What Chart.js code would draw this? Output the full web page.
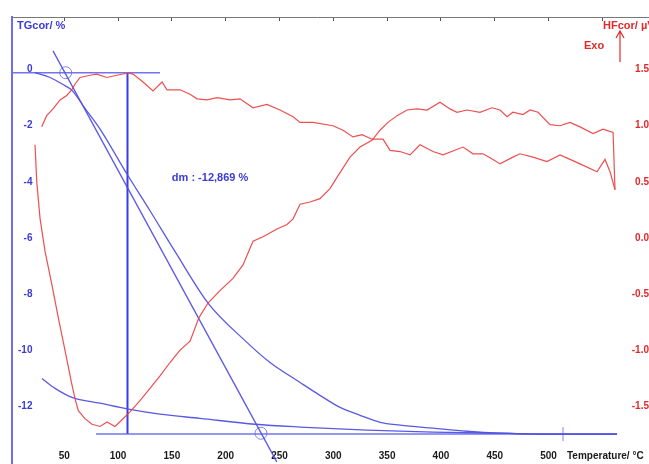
<!DOCTYPE html>
<html>
<head>
<meta charset="utf-8">
<script src="https://cdn.jsdelivr.net/npm/chart.js@4.4.1/dist/chart.umd.min.js"></script>
<style>
  html, body { margin: 0; padding: 0; background: #fff; }
</style>
</head>
<body>
<canvas id="tgChart" width="649" height="464"></canvas>
<script>
// TG / DSC Grafik (NETZSCH style) menggunakan Chart.js

// --- ticks ---
const xTicks = [50, 100, 150, 200, 250, 300, 350, 400, 450, 500];
const xTopTicks = [50, 100, 150, 200, 250, 300, 350, 400, 450, 500, 550];
const tgTicks = [0, -2, -4, -6, -8, -10, -12];
const hfTicks = [1.5, 1.0, 0.5, 0.0, -0.5, -1.0, -1.5];

// --- TG curve (left axis, %) ---
const tgT = [22.9, 36.8, 48.9, 57.2, 69.3, 83.3, 108.3, 129.7, 152.9, 183.6, 218.0, 241.2, 269.1, 287.6, 306.2, 324.8, 343.4, 362.0, 392.6, 424.2, 454.9, 485.5, 513.4, 563.6];
const tgV = [-0.11, -0.28, -0.53, -0.74, -1.38, -2.12, -3.72, -5.03, -6.48, -8.32, -9.66, -10.44, -11.15, -11.61, -12.04, -12.32, -12.57, -12.67, -12.78, -12.89, -12.96, -12.99, -12.99, -12.99];

// lower TG curve
const tg2T = [29.4, 41.5, 57.2, 83.3, 111.1, 139.0, 176.2, 227.3, 269.1, 331.3, 392.6, 454.9, 510.6, 563.6];
const tg2V = [-11.01, -11.36, -11.68, -11.89, -12.11, -12.28, -12.43, -12.64, -12.74, -12.85, -12.92, -12.96, -12.99, -12.99];

// evaluation lines
const tangentT = [39.6, 247.5];
const tangentV = [0.67, -13.98];
const baseTopT = [1.5, 139.0];
const baseTopV = [-0.11, -0.11];
const baseBotT = [79.6, 563.6];
const baseBotV = [-12.99, -12.99];
const dmLineT = [108.8, 108.8];
const dmLineV = [-0.11, -12.99];
const onsetT = [51.4, 232.8];
const onsetV = [-0.11, -12.96];
const markT = [513.4];
const markV = [-12.99];
const dmLabel = 'dm : -12,869 %';
const dmAt = [150, -3.86];

// --- DSC (right axis, HFcor) ---
const heatT = [22.9, 24.5, 27.6, 32.2, 38.4, 44.5, 50.7, 57.0, 60.0, 63.1, 69.3, 75.8, 83.3, 89.8, 97.2, 103.7, 111.1, 120.4, 129.7, 139.0, 148.3, 157.6, 166.9, 175.2, 183.6, 194.7, 206.8, 216.1, 225.4, 234.7, 247.7, 257.0, 262.6, 269.1, 278.4, 287.6, 296.9, 303.4, 315.5, 324.8, 335.9, 343.4, 350.8, 359.2, 368.5, 377.8, 387.1, 399.1, 408.4, 414.9, 424.2, 436.3, 447.4, 454.9, 461.4, 466.9, 476.2, 482.7, 490.2, 501.3, 510.6, 519.9, 529.2, 541.3, 550.6, 559.9, 561.7];
const heatHF = [0.83, 0.50, 0.17, -0.12, -0.41, -0.71, -1.00, -1.30, -1.43, -1.54, -1.61, -1.66, -1.68, -1.64, -1.68, -1.62, -1.55, -1.45, -1.34, -1.23, -1.11, -1.00, -0.92, -0.71, -0.58, -0.47, -0.36, -0.24, -0.03, 0.01, 0.08, 0.12, 0.17, 0.30, 0.32, 0.35, 0.44, 0.54, 0.72, 0.81, 0.87, 0.96, 1.03, 1.09, 1.14, 1.15, 1.14, 1.21, 1.15, 1.12, 1.14, 1.12, 1.16, 1.14, 1.08, 1.12, 1.10, 1.14, 1.12, 1.01, 1.00, 1.03, 0.99, 0.93, 0.97, 0.94, 0.43];

const coolT = [29.1, 33.7, 39.6, 46.1, 52.3, 57.0, 60.0, 64.7, 74.0, 80.2, 89.5, 98.8, 109.3, 113.9, 123.2, 132.5, 140.9, 145.5, 157.6, 166.9, 173.4, 182.7, 192.0, 204.0, 213.3, 225.4, 238.4, 250.5, 262.6, 269.1, 281.1, 299.7, 309.0, 318.3, 326.7, 335.9, 346.2, 352.7, 362.0, 371.3, 380.5, 392.6, 401.9, 420.5, 429.8, 439.1, 448.4, 454.9, 466.9, 473.4, 485.5, 498.5, 510.6, 519.9, 529.2, 545.0, 552.4, 557.1, 561.7];
const coolHF = [0.99, 1.09, 1.15, 1.23, 1.27, 1.32, 1.37, 1.43, 1.45, 1.46, 1.43, 1.45, 1.47, 1.46, 1.39, 1.31, 1.39, 1.32, 1.32, 1.28, 1.24, 1.23, 1.25, 1.23, 1.24, 1.16, 1.19, 1.14, 1.08, 1.03, 1.03, 1.00, 0.96, 0.90, 0.92, 0.88, 0.88, 0.78, 0.77, 0.74, 0.83, 0.77, 0.74, 0.81, 0.75, 0.75, 0.70, 0.66, 0.72, 0.75, 0.72, 0.68, 0.74, 0.70, 0.66, 0.59, 0.70, 0.59, 0.43];

const blue = 'rgba(80, 80, 225, 0.95)';
const blueText = '#3b3bd6';
const red = 'rgba(235, 60, 60, 0.9)';
const redText = '#e02a2a';
const fontFam = '"Liberation Sans", Arial, sans-serif';

const pts = (xs, ys) => xs.map((x, i) => ({ x: x, y: ys[i] }));

const lineSet = (data, color, width, axis, extra) => Object.assign({
  data: data,
  borderColor: color,
  borderWidth: width,
  pointRadius: 0,
  fill: false,
  tension: 0,
  yAxisID: axis,
}, extra || {});

const textPlugin = {
  id: 'texts',
  afterDraw(chart) {
    const c = chart.ctx;
    const area = chart.chartArea;
    const x = chart.scales.x;
    const yL = chart.scales.yL;
    c.save();
    // left axis line down to the bottom edge
    c.strokeStyle = 'rgba(110, 110, 235, 1)';
    c.lineWidth = 2;
    c.beginPath();
    c.moveTo(area.left, area.bottom);
    c.lineTo(area.left, chart.height);
    c.stroke();
    // top frame line runs on to the right edge
    c.strokeStyle = '#777';
    c.lineWidth = 1;
    c.beginPath();
    c.moveTo(area.right, area.top + 0.5);
    c.lineTo(chart.width, area.top + 0.5);
    c.stroke();

    c.font = 'bold 11px ' + fontFam;
    c.textBaseline = 'middle';
    c.textAlign = 'left';
    c.fillStyle = blueText;
    c.fillText('TGcor/ %', 17, 26);
    c.fillText(dmLabel, x.getPixelForValue(dmAt[0]), yL.getPixelForValue(dmAt[1]));

    c.fillStyle = redText;
    c.fillText('HFcor/ µV/mg', 603, 26);
    c.fillText('Exo', 584, 46);

    // Exo arrow
    c.strokeStyle = redText;
    c.lineWidth = 1.2;
    c.beginPath();
    c.moveTo(620, 62);
    c.lineTo(620, 32);
    c.moveTo(616, 38);
    c.lineTo(620, 31);
    c.lineTo(624, 38);
    c.stroke();

    c.font = 'bold 10px ' + fontFam;
    c.fillStyle = '#1a1a1a';
    c.fillText('Temperature/ °C', 567, 456);
    c.restore();
  }
};

const ctx = document.getElementById('tgChart').getContext('2d');

new Chart(ctx, {
  type: 'line',
  data: {
    datasets: [
      lineSet(pts(heatT, heatHF), red, 1.2, 'yR'),
      lineSet(pts(coolT, coolHF), red, 1.2, 'yR'),
      lineSet(pts(tgT, tgV), blue, 1.3, 'yL', { cubicInterpolationMode: 'monotone' }),
      lineSet(pts(tg2T, tg2V), blue, 1.3, 'yL', { cubicInterpolationMode: 'monotone' }),
      lineSet(pts(tangentT, tangentV), blue, 1.3, 'yL', { clip: false }),
      lineSet(pts(baseTopT, baseTopV), 'rgba(100, 100, 240, 0.9)', 1.5, 'yL'),
      lineSet(pts(baseBotT, baseBotV), 'rgba(100, 100, 240, 0.9)', 1.5, 'yL'),
      lineSet(pts(dmLineT, dmLineV), '#3a3af0', 2, 'yL'),
      lineSet(pts(onsetT, onsetV), 'transparent', 0, 'yL', {
        showLine: false,
        pointRadius: 6,
        pointStyle: 'circle',
        pointBackgroundColor: 'transparent',
        pointBorderColor: 'rgba(110, 110, 235, 0.85)',
        pointBorderWidth: 1,
      }),
      lineSet(pts(markT, markV), 'transparent', 0, 'yL', {
        showLine: false,
        pointRadius: 7,
        pointStyle: 'line',
        rotation: 90,
        pointBorderColor: 'rgba(110, 110, 235, 0.85)',
        pointBorderWidth: 1,
      }),
    ],
  },
  options: {
    responsive: false,
    animation: false,
    devicePixelRatio: 1,
    layout: { padding: 0 },
    plugins: {
      legend: { display: false },
      tooltip: { enabled: false },
    },
    scales: {
      x: {
        type: 'linear',
        position: 'bottom',
        min: 1.5,
        max: 568.2,
        afterFit: (s) => { s.height = 17; },
        afterBuildTicks: (s) => { s.ticks = xTicks.map((v) => ({ value: v })); },
        grid: { display: false, drawTicks: false },
        border: { display: false },
        ticks: {
          padding: 3,
          color: '#1a1a1a',
          font: { family: fontFam, size: 10, weight: 'bold' },
          maxRotation: 0,
          autoSkip: false,
        },
      },
      xTop: {
        type: 'linear',
        position: 'top',
        min: 1.5,
        max: 568.2,
        afterFit: (s) => { s.height = 14; },
        afterBuildTicks: (s) => { s.ticks = xTopTicks.map((v) => ({ value: v })); },
        grid: { drawOnChartArea: false, drawTicks: true, tickLength: -4, color: '#555' },
        border: { display: true, color: '#777', width: 1 },
        ticks: { display: false },
      },
      yL: {
        type: 'linear',
        position: 'left',
        min: -13.451,
        max: 1.876,
        afterFit: (s) => { s.width = 12; },
        afterBuildTicks: (s) => { s.ticks = tgTicks.map((v) => ({ value: v })); },
        grid: { display: false, drawTicks: false },
        border: { display: true, color: 'rgba(110, 110, 235, 1)', width: 2 },
        ticks: {
          mirror: true,
          crossAlign: 'far',
          padding: 6,
          color: blueText,
          font: { family: fontFam, size: 10, weight: 'bold' },
          callback: (v) => String(v),
        },
      },
      yR: {
        type: 'linear',
        position: 'right',
        min: -1.863,
        max: 1.969,
        afterFit: (s) => { s.width = 27; },
        afterBuildTicks: (s) => { s.ticks = hfTicks.map((v) => ({ value: v })); },
        grid: { display: false, drawTicks: false },
        border: { display: false },
        ticks: {
          crossAlign: 'far',
          padding: 11,
          color: redText,
          font: { family: fontFam, size: 10, weight: 'bold' },
          callback: (v) => Number(v).toFixed(1),
        },
      },
    },
  },
  plugins: [textPlugin],
});
</script>
</body>
</html>
